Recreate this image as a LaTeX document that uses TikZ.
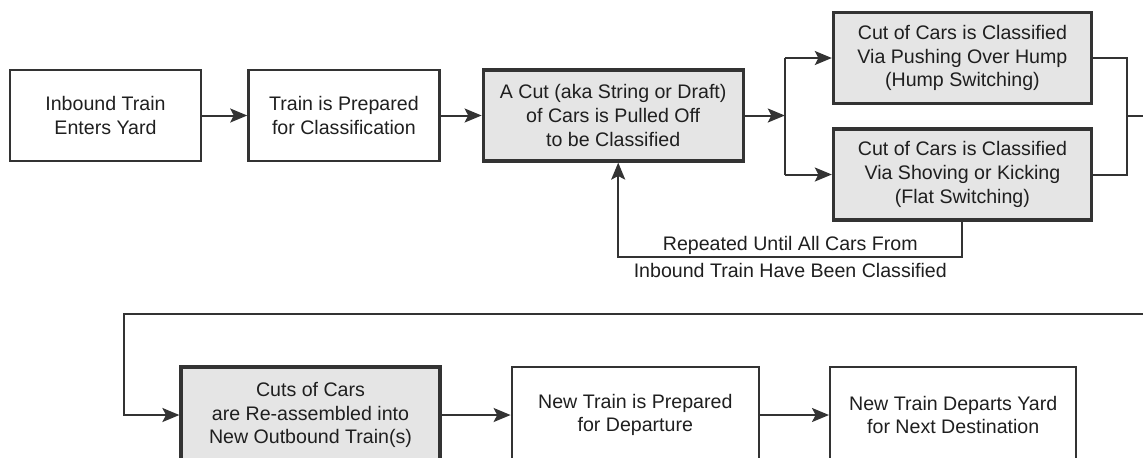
\documentclass[tikz,border=0pt]{standalone}
\usepackage{fontspec}
\setmainfont{Liberation Sans}
\usetikzlibrary{arrows.meta,positioning}

\begin{document}
\begin{tikzpicture}[
                block/.style={draw=black!80, line width=1.2pt, minimum width=95.5pt, minimum height=45.5pt, align=center, inner sep=2pt, text=black!88, font=\fontsize{9.8}{11.8}\selectfont},
                shaded/.style={block, line width=1.6pt, fill=black!10},
                arrow/.style={-{Stealth[length=8.5pt, width=7pt, inset=1.8pt]}, draw=black!80, line width=1pt},
                wire/.style={draw=black!80, line width=1pt},
                note/.style={align=center, inner sep=0pt, text=black!88, font=\fontsize{9.8}{13.5}\selectfont},
                node distance=22.5pt
            ]

            \useasboundingbox (0,0) rectangle (571.5pt,-228.5pt);

            \node[block] (inbound) at (52.75pt,-57.75pt) {Inbound Train\\Enters Yard};

            \node[block, right=of inbound] (prep) {Train is Prepared\\for Classification};

            \node[shaded, minimum width=130pt, right=20.5pt of prep] (pull) {A Cut (aka String or Draft)\\of Cars is Pulled Off\\to be Classified};

            \node[shaded, minimum width=129pt, right=43.5pt of pull, yshift=28.75pt] (hump) {Cut of Cars is Classified\\Via Pushing Over Hump\\(Hump Switching)};

            \node[shaded, minimum width=129pt, right=43.5pt of pull, yshift=-29.5pt] (flat) {Cut of Cars is Classified\\Via Shoving or Kicking\\(Flat Switching)};

            \node[shaded, minimum width=129.5pt, minimum height=48pt] (reasm) at (155.25pt,-207.5pt) {Cuts of Cars\\are Re-assembled into\\New Outbound Train(s)};

            \node[block, minimum width=123.5pt, minimum height=48pt, right=34.5pt of reasm] (newprep) {New Train is Prepared\\for Departure};

            \node[block, minimum width=123pt, minimum height=48pt, right=34.5pt of newprep] (depart) {New Train Departs Yard\\for Next Destination};

            \draw[arrow] (inbound) -- (prep);
            \draw[arrow] (prep) -- (pull);

            % split into the two switching methods
            \coordinate[right=20pt of pull] (split);
            \draw[arrow] (pull) -- (split);
            \draw[wire] (split |- hump.west) -- (split |- flat.west);
            \draw[arrow] (split |- hump.west) -- (hump.west);
            \draw[arrow] (split |- flat.west) -- (flat.west);

            % join and wrap to the second row
            \coordinate[right=17pt of hump] (humpout);
            \coordinate (join) at (humpout |- pull.east);
            \draw[wire] (hump.east) -- (humpout) -- (humpout |- flat.east) -- (flat.east);
            \draw[wire] (join) -- ++(30pt,0);

            \coordinate (wrapR) at (580pt,-157pt);
            \coordinate[left=27.5pt of reasm.west] (wrapL);
            \draw[arrow] (wrapR) -| (wrapL) -- (reasm.west);

            % repeat loop
            \coordinate (loop) at (0,-128.5pt);
            \coordinate (pullin) at ([xshift=2.5pt]pull.south);
            \draw[arrow] (flat.south) -- (flat.south |- loop) -- node[note] {Repeated Until All Cars From\\Inbound Train Have Been Classified} (pullin |- loop) -- (pullin);

            \draw[arrow] (reasm) -- (newprep);
            \draw[arrow] (newprep) -- (depart);

        \end{tikzpicture}
\end{document}
